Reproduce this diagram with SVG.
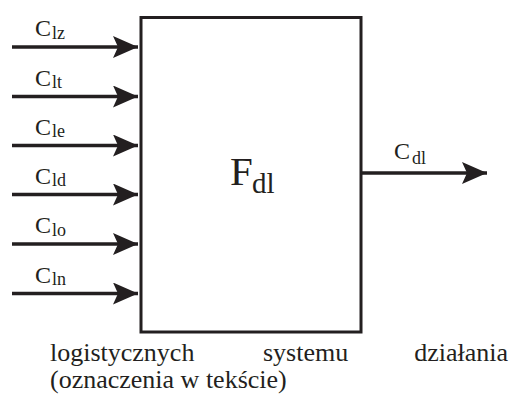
<svg xmlns="http://www.w3.org/2000/svg" width="513" height="396" viewBox="0 0 513 396">
  <style>
    text { font-family: 'Liberation Serif', 'DejaVu Serif', 'Times New Roman', serif; fill: #231f20; }
    .c { font-size: 24px; }
    .s { font-size: 18px; }
    .conn { stroke: #231f20; stroke-width: 3.5; fill: none; }
    .box { fill: #ffffff; stroke: #231f20; stroke-width: 3; }
    .cap { font-size: 26px; }
  </style>
  <defs>
    <marker id="ah" markerUnits="userSpaceOnUse" viewBox="-25 -11 25 22" refX="0" refY="0" markerWidth="25" markerHeight="22" orient="auto">
      <path d="M0,0 L-25,-11 L-20,0 L-25,11 Z" fill="#231f20"/>
    </marker>
  </defs>

  <g id="node-F">
    <rect class="box" x="141" y="17.5" width="220" height="314.5"/>
    <text x="230" y="185" font-size="41" font-family="Liberation Serif, serif">F</text>
    <text x="252" y="193" font-size="29" font-family="Liberation Serif, serif">dl</text>
  </g>

  <g id="connectors">
    <line class="conn" x1="12" y1="47" x2="138" y2="47" marker-end="url(#ah)"/>
    <line class="conn" x1="12" y1="96.5" x2="138" y2="96.5" marker-end="url(#ah)"/>
    <line class="conn" x1="12" y1="145.5" x2="138" y2="145.5" marker-end="url(#ah)"/>
    <line class="conn" x1="12" y1="194.5" x2="138" y2="194.5" marker-end="url(#ah)"/>
    <line class="conn" x1="12" y1="244" x2="138" y2="244" marker-end="url(#ah)"/>
    <line class="conn" x1="12" y1="293.5" x2="138" y2="293.5" marker-end="url(#ah)"/>
    <line class="conn" x1="361" y1="173" x2="487" y2="173" marker-end="url(#ah)"/>
  </g>

  <g id="labels" font-family="Liberation Serif, serif">
    <text class="c" x="35" y="36">C</text><text class="s" x="52" y="38.5">lz</text>
    <text class="c" x="35" y="85.5">C</text><text class="s" x="52" y="88">lt</text>
    <text class="c" x="35" y="134.5">C</text><text class="s" x="52" y="137">le</text>
    <text class="c" x="35" y="183.5">C</text><text class="s" x="52" y="186">ld</text>
    <text class="c" x="35" y="233">C</text><text class="s" x="52" y="235.5">lo</text>
    <text class="c" x="35" y="282.5">C</text><text class="s" x="52" y="285">ln</text>
    <text class="c" x="394" y="159">C</text><text class="s" x="412" y="164">dl</text>
  </g>

  <g id="caption" font-family="Liberation Serif, serif">
    <text class="cap" x="50" y="361">logistycznych</text>
    <text class="cap" x="263" y="361">systemu</text>
    <text class="cap" x="508" y="361" text-anchor="end">działania</text>
    <text class="cap" x="50" y="388">(oznaczenia w tekście)</text>
  </g>
</svg>
